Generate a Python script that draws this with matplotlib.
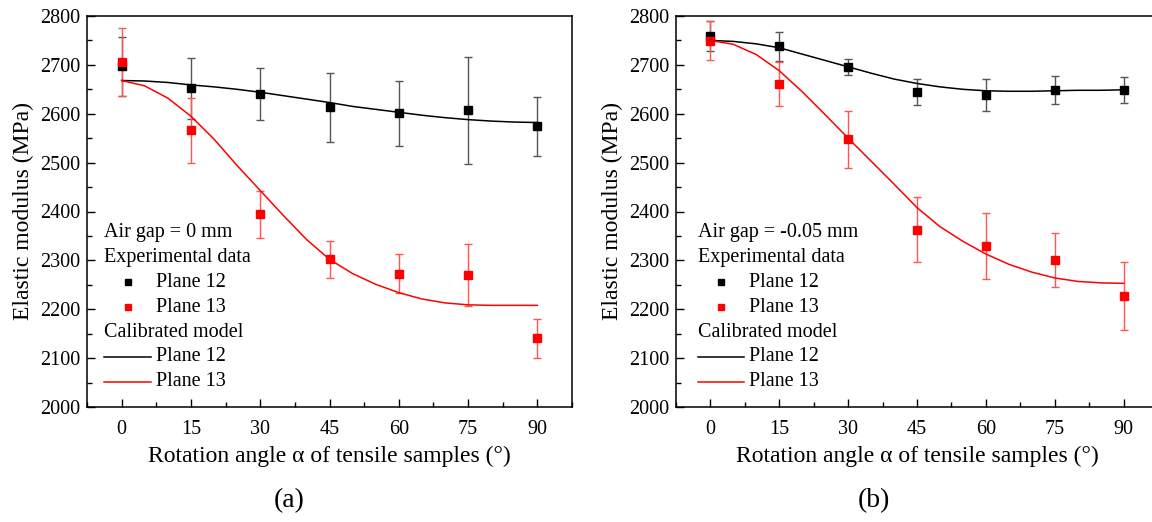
import matplotlib
matplotlib.use('Agg')
import matplotlib.pyplot as plt
from matplotlib.ticker import MultipleLocator

plt.rcParams['font.family'] = ['Liberation Serif', 'DejaVu Serif']

# rotation angles of tested samples
angles = [0, 15, 30, 45, 60, 75, 90]
# angles used to sample the calibrated model curve
model_angles = [0, 5, 10, 15, 20, 25, 30, 35, 40, 45, 50, 55, 60, 65, 70, 75, 80, 85, 90]

# (a) air gap = 0 mm
a_p12 = [2697, 2652, 2640, 2613, 2601, 2607, 2574]
a_p12_err = [60, 62, 53, 70, 66, 110, 61]
a_p13 = [2706, 2566, 2394, 2302, 2273, 2270, 2141]
a_p13_err = [70, 67, 48, 38, 40, 64, 40]
a_m12 = [2668, 2667, 2664, 2659, 2655, 2650, 2644, 2637, 2630, 2623,
         2615, 2609, 2603, 2597, 2592, 2588, 2585, 2583, 2582]
a_m13 = [2668, 2657, 2632, 2595, 2548, 2494, 2443, 2392, 2343, 2302,
         2273, 2251, 2234, 2221, 2213, 2209, 2208, 2208, 2208]

# (b) air gap = -0.05 mm
b_p12 = [2759, 2738, 2696, 2644, 2639, 2649, 2648]
b_p12_err = [31, 30, 17, 27, 33, 29, 27]
b_p13 = [2749, 2661, 2548, 2363, 2329, 2300, 2227]
b_p13_err = [40, 45, 58, 66, 68, 55, 69]
b_m12 = [2750, 2748, 2743, 2735, 2722, 2709, 2696, 2683, 2671, 2662,
         2655, 2650, 2647, 2646, 2646, 2647, 2648, 2648, 2649]
b_m13 = [2750, 2742, 2721, 2688, 2645, 2598, 2550, 2503, 2456, 2408,
         2369, 2339, 2313, 2292, 2276, 2264, 2257, 2254, 2253]

RED = '#ff0000'


def draw_panel(ax, p12, e12, p13, e13, m12, m13, gap_text, lx):
    ax.errorbar(angles, p12, yerr=e12, fmt='none', ecolor='#555555',
                elinewidth=1.0, capsize=3, capthick=1.0, zorder=2)
    ax.errorbar(angles, p13, yerr=e13, fmt='none', ecolor='#ff5555',
                elinewidth=1.0, capsize=3, capthick=1.0, zorder=2)
    ax.plot(angles, p12, 's', color='black', ms=5.5, zorder=3)
    ax.plot(angles, p13, 's', color=RED, ms=5.5, zorder=3)
    ax.plot(model_angles, m12, '-', color='black', lw=1.1, zorder=4)
    ax.plot(model_angles, m13, '-', color=RED, lw=1.1, zorder=4)

    ax.set_xlim(-7.5, 97.5)
    ax.set_ylim(2000, 2800)
    ax.set_xticks(angles)
    ax.xaxis.set_minor_locator(MultipleLocator(7.5))
    ax.yaxis.set_major_locator(MultipleLocator(100))
    ax.yaxis.set_minor_locator(MultipleLocator(50))
    ax.tick_params(which='both', direction='in', top=False, right=False,
                   labelsize=14.5, width=1.0)
    ax.tick_params(which='major', length=6)
    ax.tick_params(which='minor', length=3.5)
    ax.tick_params(axis='x', which='both', pad=9)
    ax.tick_params(axis='y', which='both', pad=5)
    for sp in ax.spines.values():
        sp.set_linewidth(1.1)
    ax.set_xlabel('Rotation angle α of tensile samples (°)', fontsize=17, labelpad=5)
    ax.set_ylabel('Elastic modulus (MPa)', fontsize=17, labelpad=4)

    # hand-made legend
    hx, mx, tx, l0, l1 = lx
    rows = [0.447, 0.382, 0.319, 0.255, 0.191, 0.128, 0.064]
    tr = ax.transAxes
    fs = 14.5
    ax.text(hx, rows[0], gap_text, transform=tr, fontsize=fs, va='center')
    ax.text(hx, rows[1], 'Experimental data', transform=tr, fontsize=fs, va='center')
    ax.plot([mx], [rows[2]], 's', color='black', ms=4.5, transform=tr)
    ax.text(tx, rows[2], 'Plane 12', transform=tr, fontsize=fs, va='center')
    ax.plot([mx], [rows[3]], 's', color=RED, ms=4.5, transform=tr)
    ax.text(tx, rows[3], 'Plane 13', transform=tr, fontsize=fs, va='center')
    ax.text(hx, rows[4], 'Calibrated model', transform=tr, fontsize=fs, va='center')
    ax.plot([l0, l1], [rows[5], rows[5]], '-', color='black', lw=1.1, transform=tr)
    ax.text(tx, rows[5], 'Plane 12', transform=tr, fontsize=fs, va='center')
    ax.plot([l0, l1], [rows[6], rows[6]], '-', color=RED, lw=1.1, transform=tr)
    ax.text(tx, rows[6], 'Plane 13', transform=tr, fontsize=fs, va='center')


W, H = 1152, 522
fig = plt.figure(figsize=(W / 100, H / 100), dpi=100)
ax1 = fig.add_axes([87 / W, (H - 407) / H, 485 / W, 391 / H])
ax2 = fig.add_axes([676 / W, (H - 407) / H, 482 / W, 391 / H])

draw_panel(ax1, a_p12, a_p12_err, a_p13, a_p13_err, a_m12, a_m13,
           'Air gap = 0 mm', (0.036, 0.084, 0.142, 0.036, 0.132))
draw_panel(ax2, b_p12, b_p12_err, b_p13, b_p13_err, b_m12, b_m13,
           'Air gap = -0.05 mm', (0.046, 0.093, 0.152, 0.046, 0.141))

fig.text(289 / W, 1 - 501 / H, '(a)', fontsize=20, ha='center', va='center')
fig.text(874 / W, 1 - 501 / H, '(b)', fontsize=20, ha='center', va='center')

fig.savefig('out.png', dpi=100)
